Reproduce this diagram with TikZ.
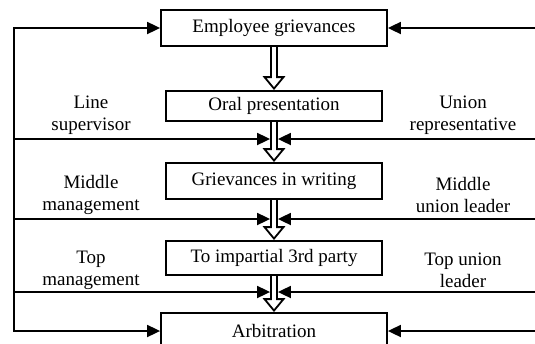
\documentclass[tikz,border=0pt]{standalone}
\usepackage{fontspec}
\setmainfont{Liberation Serif}
\usetikzlibrary{arrows.meta,calc}
\newcommand\hollowarrow[2]{%
  \draw[hollow] ($(#1.south)+(-3,0)$) -- ($(#2.north)+(-3,-13)$) -- ($(#2.north)+(-9.5,-13)$)
    -- ($(#2.north)+(0,-1.5)$) -- ($(#2.north)+(9.5,-13)$) -- ($(#2.north)+(3,-13)$) -- ($(#1.south)+(3,0)$);}
\begin{document}
\begin{tikzpicture}[x=1pt,y=-1pt,
  box/.style={draw,line width=1.8pt,minimum height=36pt,inner sep=0pt,font=\fontsize{19}{22}\selectfont},
  wide/.style={box,minimum width=226pt},
  narrow/.style={box,minimum width=216pt},
  lbl/.style={align=center,font=\fontsize{19}{22}\selectfont,inner sep=0pt},
  feed/.style={line width=1.8pt,-{Triangle[length=13pt,width=12pt]}},
  feedtwo/.style={line width=1.8pt,{Triangle[length=13pt,width=12pt]}-{Triangle[length=13pt,width=12pt]}},
  hollow/.style={line width=1.8pt,line join=miter}
]
\useasboundingbox (0,0) rectangle (535,343);
\clip (0,0) rectangle (535,343);

\node[wide] (emp) at (274,28) {Employee grievances};
\node[narrow, minimum height=30pt] (oral) at (274,106) {Oral presentation};
\node[narrow] (writ) at (274,181) {Grievances in writing};
\node[narrow, minimum height=34pt] (third) at (274,258) {To impartial 3rd party};
\node[wide] (arb) at (274,331) {Arbitration};

\node[lbl] (ls) at (91,115) {Line\\supervisor};
\node[lbl] (ur) at (463,115) {Union\\representative};
\node[lbl] (mm) at (91,195) {Middle\\management};
\node[lbl] (mu) at (463,195) {Middle\\union leader};
\node[lbl] (tm) at (91,270) {Top\\management};
\node[lbl] (tu) at (463,270) {Top union\\leader};

\coordinate (lx) at (14,0);
\coordinate (rx) at (545,0);

\draw[feedtwo] (arb.west) -- (lx |- arb.west) -- (lx |- emp.west) -- (emp.west);
\draw[feedtwo] (emp.east) -- (rx |- emp.east) -- (rx |- arb.east) -- (arb.east);

\hollowarrow{emp}{oral}
\hollowarrow{oral}{writ}
\hollowarrow{writ}{third}
\hollowarrow{third}{arb}

\coordinate (a1l) at (270.1,139); \coordinate (a1r) at (277.9,139);
\coordinate (a2l) at (270.1,219); \coordinate (a2r) at (277.9,219);
\coordinate (a3l) at (270.1,292); \coordinate (a3r) at (277.9,292);
\draw[feed] (lx |- a1l) -- (a1l);
\draw[feed] (rx |- a1r) -- (a1r);
\draw[feed] (lx |- a2l) -- (a2l);
\draw[feed] (rx |- a2r) -- (a2r);
\draw[feed] (lx |- a3l) -- (a3l);
\draw[feed] (rx |- a3r) -- (a3r);
\end{tikzpicture}
\end{document}
